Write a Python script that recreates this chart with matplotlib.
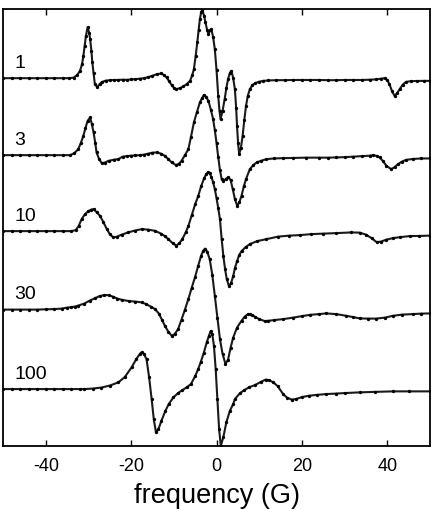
import matplotlib
matplotlib.use('Agg')
import matplotlib.pyplot as plt

plt.rcParams['font.family'] = ['Liberation Sans', 'DejaVu Sans']

# Spectra: field position (G) and signal (arb. units)
labels = ['1', '3', '10', '30', '100']
offsets = [0, -77, -153, -231.5, -311]

field_1 = [-50, -48, -46, -44, -42, -40, -38, -36, -34.5, -33.5, -32.7, -32.0, -31.5, -31.2,
           -30.9, -30.6, -30.2, -29.8, -29.6, -29.3, -29.1, -28.8, -28.5, -27.9, -27.4, -26.9,
           -26, -25, -24, -23, -22, -21, -20, -19, -18, -17, -16, -15, -14, -12.9, -12.3,
           -11.7, -11.1, -10.5, -9.9, -9.4, -8.6, -7.8, -7, -6.2, -5.7, -5.3, -4.9, -4.5, -4.2,
           -3.9, -3.6, -3.3, -2.9, -2.6, -2.2, -1.9, -1.5, -1.2, -0.8, -0.4, 0, 0.4, 0.7, 0.94,
           1.4, 1.9, 2.3, 2.7, 3.1, 3.5, 3.9, 4.3, 4.6, 4.8, 5.05, 5.3, 5.7, 6.1, 6.5, 6.9, 7.3,
           7.8, 8.4, 9.0, 10, 10.9, 12, 14, 16, 18, 20, 22, 24, 26, 28, 30, 32, 34, 36, 37.4,
           38.5, 39.4, 40, 40.5, 41.1, 41.7, 42.3, 42.9, 43.6, 44.4, 45.5, 47, 48.5, 50]
signal_1 = [0, 0, 0, 0, 0, 0, 0, 0, 0, 0.5, 3, 7, 14, 22,
            32, 42, 51, 45, 39, 27, 16, 5, -6, -9, -6, -4,
            -2.5, -2, -1.8, -1.8, -1.5, -1.7, -1.2, -1, -0.5, 0, 1, 2.5, 4, 4.7, 3,
            0.7, -3, -7, -10, -11, -10, -8.3, -6, -2.7, 3, 9, 22, 36, 48,
            59, 66, 68, 62, 56, 48, 44, 48, 49, 41, 29, 8, -18, -33, -41,
            -33, -21, -10, -1, 5, 7.3, 0, -11, -30, -48, -65, -76, -70, -58, -42, -28, -18,
            -11, -7, -5, -3.5, -2.7, -2.3, -2, -2, -1.8, -1.8, -1.8, -1.8, -2, -2, -1.8, -1.8, -1.8, -1.5, -1.2,
            -0.5, 0, -2, -6, -13, -17.7, -15, -11, -6.5, -3.7, -3, -2.8, -2.7, -2.7]

field_3 = [-50, -48, -46, -44, -42, -40, -38, -36, -34.3, -33.3, -32.4, -31.8, -31.2, -30.7,
           -30.2, -29.6, -29.2, -28.8, -28.4, -28.1, -27.5, -26.9, -26.2, -25.3, -24, -23, -22,
           -21, -20, -19, -17.9, -17, -16, -15, -14, -13, -12.1, -11.3, -10.5, -9.5, -8.8, -8.2,
           -7.4, -6.6, -6, -5.3, -4.6, -3.9, -3.4, -3.0, -2.5, -1.9, -1.3, -0.8, -0.4, 0, 0.4,
           0.8, 1.2, 1.6, 2.2, 2.8, 3.3, 3.8, 4.3, 4.84, 5.35, 5.85, 6.4, 6.9, 7.8, 8.6, 9.4,
           10.5, 11.7, 13.5, 15.6, 18, 21, 24, 26, 28, 30, 32, 34, 36, 36.7, 37.5, 38.2, 39,
           39.8, 40.9, 41.7, 42.5, 43.4, 44.4, 46, 48, 50]
signal_3 = [0, 0, 0, 0, 0, 0, 0, 0, 0, 2, 6, 12, 19.3, 27,
            34.3, 37.7, 31, 22.7, 12, 2.7, -4, -8, -7.5, -5.7, -4.5, -4, -1.5,
            -1, -0.5, -0.3, 0, 0.5, 1.5, 2.5, 2.7, 1.5, -0.7, -4, -7.3, -10, -8.5, -5.7,
            0, 6, 18, 32.7, 43, 52.7, 57, 60, 58.5, 54.3, 45, 36, 25, 12, -2,
            -15, -24, -26, -23.5, -22, -25, -34, -44, -50.7, -47, -40.7, -31, -24, -14, -10, -7.3,
            -5.5, -4, -3.3, -3, -2.8, -2.5, -2.5, -2.5, -2.3, -2, -1.5, -1, -0.5, 0, -0.8, -2.3, -6,
            -10.7, -14, -12, -9, -6.5, -4.7, -3.8, -3.3, -3.3]

field_10 = [-50, -48, -46, -44, -42, -40, -38, -36, -34, -33, -32.3, -31.6, -30.8, -30, -29.4,
            -28.8, -28.1, -27.3, -26.5, -25.7, -25, -24.2, -23.3, -22.2, -20.7, -19.2, -17.5,
            -16, -14.4, -13, -12.1, -11.3, -10.3, -9.4, -8.7, -8, -7.2, -6.6, -5.8, -5, -4.3,
            -3.6, -2.9, -2.4, -2.0, -1.6, -1.2, -0.8, -0.4, 0, 0.4, 0.8, 1.2, 1.6, 2.0, 2.4,
            2.9, 3.4, 3.9, 4.3, 4.8, 5.3, 5.85, 6.8, 7.8, 9.5, 11.7, 14.4, 17, 19.5, 22.2, 25,
            28, 31.6, 33.5, 35, 36.3, 37.5, 38.5, 39.8, 41.3, 43, 45.2, 47.5, 50]
signal_10 = [0, 0, 0, 0, 0, 0, 0, 0, 0, 1, 5, 12, 17, 20, 21.5,
             22, 19, 15.3, 9, 2, -3, -6.3, -5.5, -3.5, -1.3, 0.5, 2,
             1.5, 0.3, -2.5, -5, -8, -12, -14.5, -12, -8, -1, 5, 16, 27, 35,
             45, 53, 57, 59, 58, 54, 49, 42, 33, 23, 12, -8, -25, -38, -48,
             -55, -52, -45, -37, -30, -24, -20, -16, -13, -10, -8, -5.5, -4.5, -4, -3, -2.5,
             -2, -1.3, -1.5, -3.5, -7, -11, -10.5, -8.5, -7, -6, -5, -4.8, -4.5]

field_30 = [-50, -48, -46, -44, -42, -40, -38, -36.3, -35, -34, -33.2, -32.4, -31, -29.7,
            -28.5, -27.4, -26.3, -25.3, -24.3, -23.2, -22.2, -20.5, -19, -17.5, -16.5, -15.4,
            -14.4, -13.5, -12.8, -12.1, -11.3, -10.5, -9.8, -9, -8.2, -7.4, -6.6, -5.8, -5,
            -4.3, -3.6, -3.1, -2.7, -2.2, -1.6, -1.0, -0.4, 0.2, 0.8, 1.4, 2.1, 2.7, 3.3, 3.9,
            4.8, 5.85, 6.6, 7.4, 7.8, 8.4, 9.0, 10, 11.3, 12.1, 13.5, 15.6, 18, 20, 22, 24,
            25.7, 28, 30.4, 32, 33.5, 35.5, 37.4, 39.5, 41.3, 43.5, 46, 48, 50]
signal_30 = [0, 0, 0, 0, 0, 0.3, 0.5, 1, 2, 2.5, 3, 4, 6, 9,
             11.3, 13.5, 14.5, 14.5, 13, 11, 9.8, 8.5, 8, 7.2, 5.5, 3,
             0.5, -4, -10, -16.2, -22, -26.2, -24.5, -19.5, -10, 0, 10.5, 22, 33,
             43.8, 54, 59, 61, 58, 50.5, 35, 13.8, -8, -29.5, -44, -54.5, -50, -38, -28,
             -18, -11.2, -7, -4.5, -4.5, -5.5, -7.2, -9.5, -11.5, -11.2, -10.5, -9.5, -8, -6.5, -5.2, -4.5,
             -3.8, -4.5, -6.2, -7.5, -8.8, -9, -9, -8, -6.2, -5, -4.5, -4, -3.8]

field_100 = [-50, -48, -46, -44, -42, -40, -38, -36, -34, -32, -31, -29, -27, -25, -23, -21.5,
             -19.9, -18.8, -17.9, -17.5, -17, -16.4, -15.8, -15.2, -14.7, -14.2, -13.6, -12.9,
             -12, -11.2, -10.1, -9, -8, -7, -6, -5, -4.3, -3.7, -3, -2.3, -1.8, -1.4, -1.0,
             -0.6, -0.2, 0.2, 0.6, 1.0, 1.6, 2.3, 3.1, 3.9, 4.3, 5.5, 6.5, 7.6, 9, 10.3, 11.5,
             12.3, 13.3, 14.3, 15.6, 16.5, 17.6, 18.6, 20, 21.6, 23.5, 25.7, 28, 30, 33.5, 37,
             41.3, 45, 50]
signal_100 = [0, 0, 0, 0, 0, 0, 0, 0, 0, 0, 0, 0.5, 1.5, 3.5, 6.7, 12,
              21.7, 30, 35.5, 37, 35, 30, 12, -10, -30, -43, -40, -31.7,
              -22, -15, -8.3, -4, -1, 1.7, 5, 13, 20, 27, 36, 46.7, 53, 58, 55,
              43, 20, -10, -40, -56.7, -48, -33.3, -22, -15, -10, -4, -1, 1.7, 4, 7, 9.5,
              9, 6.7, 3, -5, -8.5, -10.5, -10, -8, -6.7, -5.8, -5, -4.5, -4, -3.3, -2.8,
              -2.3, -2.3, -2.3]

fields = [field_1, field_3, field_10, field_30, field_100]
signals = [signal_1, signal_3, signal_10, signal_30, signal_100]

fig = plt.figure(figsize=(4.37, 5.10), dpi=100)
ax = fig.add_axes([0.007, 0.124, 0.977, 0.856])

for name, x, s, off in zip(labels, fields, signals, offsets):
    y = [v + off for v in s]
    ax.plot(x, y, color='#1a1a1a', linewidth=1.5, marker='o', markersize=2.4,
            markeredgewidth=0, markerfacecolor='#000000')
    ax.text(-47.4, off + 16, name, fontsize=14, ha='left', va='center')

ax.set_xlim(-50, 50)
ax.set_ylim(-367.7, 69)
ax.set_xticks([-40, -20, 0, 20, 40])
ax.set_xticklabels(['-40', '-20', '0', '20', '40'])
ax.set_yticks([])
ax.tick_params(axis='x', direction='in', top=True, bottom=True, length=4,
               width=1, labelsize=13, pad=8)
for sp in ax.spines.values():
    sp.set_linewidth(1.3)
ax.set_xlabel('frequency (G)', fontsize=19.5, labelpad=6)

fig.savefig('out.png', dpi=100)
